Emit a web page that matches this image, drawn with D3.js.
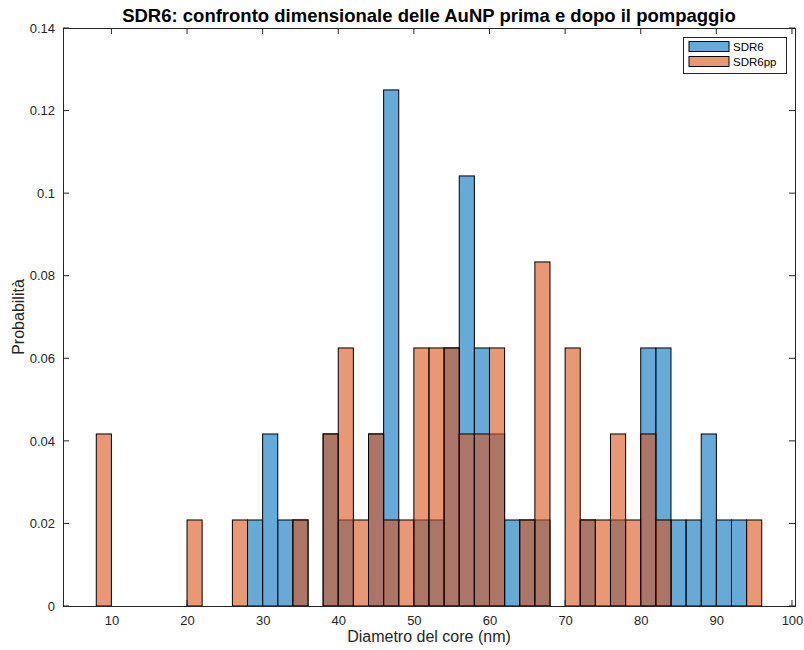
<!DOCTYPE html>
<html>
<head>
<meta charset="utf-8">
<script src="https://cdn.jsdelivr.net/npm/d3@7"></script>
<style>
	body{ margin:0; background:#fff; }
	svg{ font-family:"Liberation Sans", Arial, Helvetica, sans-serif; }
</style>
</head>
<body>
<div id="chart"></div>
<script>
// bordi sinistri dei bin (larghezza 2 nm)
var binStart = [8,10,12,14,16,18,20,22,24,26,28,30,32,34,36,38,40,42,44,46,48,50,
		52,54,56,58,60,62,64,66,68,70,72,74,76,78,80,82,84,86,88,90,92,94]
	, binWidth = 2
	, nSamples = 48
	// conteggi per bin (probabilita = conteggio / 48)
	, sdr6 = [0,0,0,0,0,0,0,0,0,0,1,2,1,1,0,2,1,0,2,6,0,1,
		1,3,5,3,2,1,1,1,0,0,1,0,1,0,3,3,1,1,2,1,1,0]
	, sdr6pp = [2,0,0,0,0,0,1,0,0,1,0,0,0,1,0,2,3,1,2,1,1,3,
		3,3,2,2,3,0,1,4,0,3,1,1,2,1,2,1,0,0,0,0,0,1]
	, seriesNames = ['SDR6', 'SDR6pp']
	, seriesColors = ['#0072bd', '#d95319']
	, xTicks = [10,20,30,40,50,60,70,80,90,100]
	, yTicks = [0,0.02,0.04,0.06,0.08,0.1,0.12,0.14]
	, yTickLabels = ['0','0.02','0.04','0.06','0.08','0.1','0.12','0.14']
	;

var W = 804, H = 650
	, m = {left:63, right:9, top:28, bottom:44}
	, w = W - m.left - m.right
	, h = H - m.top - m.bottom
	, axisColor = '#262626'
	, tickLen = 6
	;

var x = d3.scaleLinear().domain([3.6, 100.4]).range([0, w])
	, y = d3.scaleLinear().domain([0, 0.14]).range([h, 0]);

var svg = d3.select('#chart').append('svg').attr('width', W).attr('height', H);
var g = svg.append('g').attr('transform', 'translate('+ m.left +','+ m.top +')');

// barre: prima SDR6, poi SDR6pp sopra (trasparenza 0.6 come MATLAB)
[sdr6, sdr6pp].forEach(function(counts, k){
	var data = binStart.map(function(b, i){ return {x0:b, p:counts[i] / nSamples}; })
		.filter(function(d){ return d.p > 0; });
	g.append('g').selectAll('rect').data(data).enter().append('rect')
		.attr('x', function(d){ return x(d.x0); })
		.attr('width', function(d){ return x(d.x0 + binWidth) - x(d.x0); })
		.attr('y', function(d){ return y(d.p); })
		.attr('height', function(d){ return y(0) - y(d.p); })
		.attr('fill', seriesColors[k]).attr('fill-opacity', 0.6)
		.attr('stroke', '#000').attr('stroke-width', 1);
});

// assi con tick interni, box chiuso
var xAxis = d3.axisBottom(x).tickValues(xTicks).tickSize(0).tickPadding(10)
	, yAxis = d3.axisLeft(y).tickValues(yTicks).tickSize(0).tickPadding(8)
		.tickFormat(function(d, i){ return yTickLabels[i]; });

var gx = g.append('g').attr('transform', 'translate(0,'+ h +')').call(xAxis)
	, gy = g.append('g').call(yAxis);
[gx, gy].forEach(function(a){
	a.select('.domain').remove();
	a.selectAll('text').attr('fill', axisColor).style('font-size', '13px');
});

var box = g.append('g').attr('stroke', axisColor).attr('stroke-width', 1).attr('fill', 'none');
box.append('rect').attr('x', 0.5).attr('y', 0.5).attr('width', w).attr('height', h);
xTicks.forEach(function(t){
	box.append('line').attr('x1', x(t)).attr('x2', x(t)).attr('y1', h).attr('y2', h - tickLen);
	box.append('line').attr('x1', x(t)).attr('x2', x(t)).attr('y1', 0).attr('y2', tickLen);
});
yTicks.forEach(function(t){
	box.append('line').attr('x1', 0).attr('x2', tickLen).attr('y1', y(t)).attr('y2', y(t));
	box.append('line').attr('x1', w).attr('x2', w - tickLen).attr('y1', y(t)).attr('y2', y(t));
});

// titolo e etichette
svg.append('text').attr('x', m.left + w/2).attr('y', 22).attr('text-anchor', 'middle')
	.attr('font-weight', 'bold').style('font-size', '18.5px').attr('fill', '#000')
	.text('SDR6: confronto dimensionale delle AuNP prima e dopo il pompaggio');
svg.append('text').attr('x', m.left + w/2).attr('y', 642).attr('text-anchor', 'middle')
	.style('font-size', '16px').attr('fill', axisColor).text('Diametro del core (nm)');
svg.append('text').attr('transform', 'translate(24,'+ (m.top + h/2) +') rotate(-90)')
	.attr('text-anchor', 'middle').style('font-size', '16px').attr('fill', axisColor).text('Probabilità');

// legenda
var lg = svg.append('g').attr('transform', 'translate(683,37)');
lg.append('rect').attr('x', 0.5).attr('y', 0.5).attr('width', 103).attr('height', 36)
	.attr('fill', '#fff').attr('stroke', axisColor).attr('stroke-width', 1);
seriesNames.forEach(function(name, i){
	lg.append('rect').attr('x', 6).attr('y', 4.5 + i*15).attr('width', 40).attr('height', 10)
		.attr('fill', seriesColors[i]).attr('fill-opacity', 0.6).attr('stroke', '#000').attr('stroke-width', 1);
	lg.append('text').attr('x', 50).attr('y', 14 + i*15).style('font-size', '11.5px').attr('fill', '#000').text(name);
});
</script>
</body>
</html>
